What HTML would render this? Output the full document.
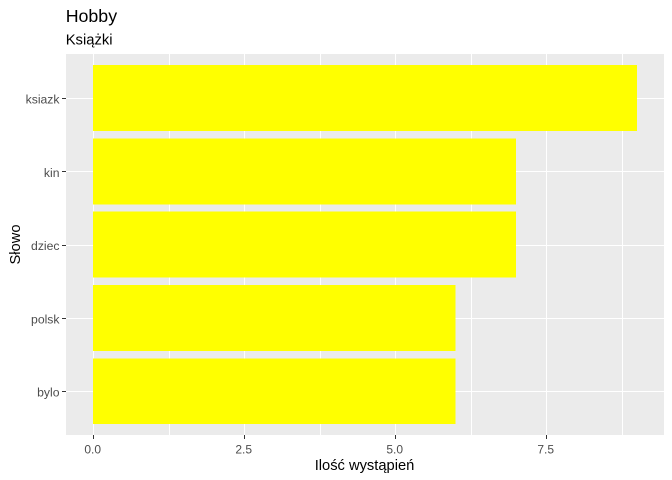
<!DOCTYPE html>
<html>
<head>
<meta charset="utf-8">
<title>Hobby</title>
<style>
html,body{margin:0;padding:0;background:#fff;}
svg{display:block;font-family:"Liberation Sans",Arial,sans-serif;}
</style>
</head>
<body>
<svg id="chart" xmlns="http://www.w3.org/2000/svg" width="672" height="480" viewBox="0 0 672 480">
<rect x="0" y="0" width="672" height="480" fill="#ffffff"/>
<text x="65.7" y="22" font-size="17.8" fill="#000">Hobby</text>
<text x="65.7" y="44.5" font-size="14.8" fill="#000">Książki</text>
<text transform="translate(20 244.5) rotate(-90)" text-anchor="middle" font-size="14.7" fill="#000">Słowo</text>
<text x="364.5" y="470" text-anchor="middle" font-size="14.7" fill="#000">Ilość wystąpień</text>
<g id="plot"></g>
</svg>
<script>
const categories = ["ksiazk", "kin", "dziec", "polsk", "bylo"];
const counts = [9, 7, 7, 6, 6];
const xTickValues = [0, 2.5, 5, 7.5];
const xTickLabels = ["0.0", "2.5", "5.0", "7.5"];
const xMinorValues = [1.25, 3.75, 6.25, 8.75];

const NS = "http://www.w3.org/2000/svg";
const plot = document.getElementById("plot");
const panel = {left: 66, right: 664, top: 54.2, bottom: 435.2};
const xDomainMax = 9;

function xScale(v) {
  const span = panel.right - panel.left;
  const pad = 0.05 * xDomainMax;
  return panel.left + (v + pad) / (xDomainMax + 2 * pad) * span;
}
function bandStep() {
  return (panel.bottom - panel.top) / (categories.length - 1 + 1.2);
}
function yScale(i) {
  return panel.top + (0.6 + i) * bandStep();
}
function px(c) {
  return Math.round(c) + 0.5;
}
function add(tag, attrs, parent) {
  const el = document.createElementNS(NS, tag);
  for (const k in attrs) el.setAttribute(k, attrs[k]);
  (parent || plot).appendChild(el);
  return el;
}

const panelTop = Math.round(panel.top);
const panelBottom = Math.round(panel.bottom);

const bg = add("rect", {x: panel.left, y: panelTop, width: panel.right - panel.left, height: panelBottom - panelTop, fill: "#EBEBEB", "shape-rendering": "crispEdges"});



xMinorValues.forEach(function (v) {
  const g = add("line", {x1: px(xScale(v)), x2: px(xScale(v)), y1: panelTop, y2: panelBottom, stroke: "#fff", "stroke-width": 1, "shape-rendering": "crispEdges"});
  
  
});
xTickValues.forEach(function (v, i) {
  const g = add("line", {x1: px(xScale(v)), x2: px(xScale(v)), y1: panelTop, y2: panelBottom, stroke: "#fff", "stroke-width": 1, "shape-rendering": "crispEdges"});
  
  
  const t = add("line", {x1: px(xScale(v)), x2: px(xScale(v)), y1: panelBottom, y2: panelBottom + 4, stroke: "#333", "stroke-width": 1, "shape-rendering": "crispEdges"});
  
  
  const l = add("text", {x: xScale(v) - 0.5, y: panelBottom + 18.5, "text-anchor": "middle", "font-size": 12, fill: "#4D4D4D"});
  
  
  l.textContent = xTickLabels[i];
});
categories.forEach(function (c, i) {
  const y = yScale(i);
  const g = add("line", {x1: panel.left, x2: panel.right, y1: px(y), y2: px(y), stroke: "#fff", "stroke-width": 1, "shape-rendering": "crispEdges"});
  
  
  const t = add("line", {x1: panel.left - 4, x2: panel.left, y1: px(y), y2: px(y), stroke: "#333", "stroke-width": 1, "shape-rendering": "crispEdges"});
  
  
  const l = add("text", {x: panel.left - 6.5, y: y + 5.4, "text-anchor": "end", "font-size": 12.2, fill: "#4D4D4D"});
  
  
  l.textContent = c;
});
counts.forEach(function (v, i) {
  const h = bandStep() * 0.9;
  const b = add("rect", {x: xScale(0), y: yScale(i) - h / 2, width: xScale(v) - xScale(0), height: h, fill: "#FFFF00", "shape-rendering": "crispEdges"});
  
  
});
</script>
</body>
</html>
